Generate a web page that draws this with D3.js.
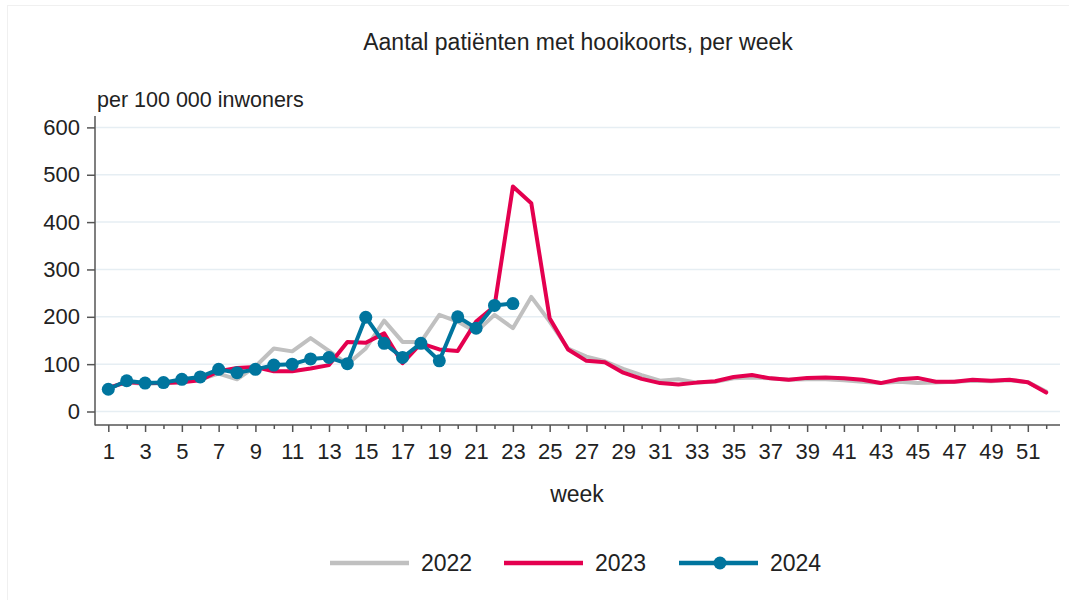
<!DOCTYPE html>
<html>
<head>
<meta charset="utf-8">
<script src="https://cdn.jsdelivr.net/npm/d3@7"></script>
<style>
  html, body { margin: 0; padding: 0; background: #fff; }
  svg text { font-family: "Liberation Sans", Arial, sans-serif; fill: #222; }
</style>
</head>
<body>
<svg id="chart" width="1069" height="600"></svg>
<script>
const weeks = d3.range(1, 53);
const yTicks = [0, 100, 200, 300, 400, 500, 600];
const seriesNames = ["2022", "2023", "2024"];

const y2022 = [50, 62, 58, 60, 62, 68, 80, 68, 95, 133, 127, 155, 128, 100, 133, 192, 147, 147, 204, 190,
               168, 204, 176, 242, 190, 133, 116, 106, 90, 77, 65, 68, 61, 63, 70, 72, 70, 67, 68, 68,
               66, 63, 60, 63, 60, 61, 63, 65, 64, 66, 62, 42];
const y2023 = [50, 62, 60, 60, 62, 66, 85, 92, 94, 85, 85, 91, 98, 147, 145, 165, 102, 144, 131, 128,
               190, 222, 475, 440, 197, 131, 107, 104, 82, 69, 60, 57, 61, 64, 73, 77, 70, 67, 71, 72,
               70, 67, 60, 68, 71, 63, 63, 67, 65, 67, 62, 40];
const y2024 = [47, 65, 60, 61, 68, 73, 89, 82, 89, 98, 100, 111, 114, 101, 199, 144, 114, 144, 107, 200,
               176, 224, 228];

const colors = { "2022": "#c0c0c0", "2023": "#e4004f", "2024": "#00759e" };

const svg = d3.select("#chart");
svg.append("rect").attr("width", 1069).attr("height", 600).attr("fill", "#fff");
svg.append("rect").attr("x", 7.5).attr("y", 5.5).attr("width", 1080).attr("height", 620)
   .attr("fill", "none").attr("stroke", "#f0f0f0");

const x = d3.scaleLinear().domain([1, 52]).range([108.3, 1046.2]);
const y = d3.scaleLinear().domain([0, 600]).range([411.5, 127.4]);

// gridlines
svg.append("g").selectAll("line").data(yTicks).join("line")
  .attr("x1", 96).attr("x2", 1060)
  .attr("y1", d => y(d)).attr("y2", d => y(d))
  .attr("stroke", "#e6eef3").attr("stroke-width", 1.5);

// title & labels
svg.append("text").attr("x", 578).attr("y", 50).attr("text-anchor", "middle")
  .style("font-size", "23px").text("Aantal patiënten met hooikoorts, per week");
svg.append("text").attr("x", 97).attr("y", 107)
  .style("font-size", "21.5px").text("per 100 000 inwoners");
svg.append("text").attr("x", 577).attr("y", 502).attr("text-anchor", "middle")
  .style("font-size", "23px").text("week");

// y axis
const yAxis = svg.append("g").attr("transform", "translate(95,0)")
  .call(d3.axisLeft(y).tickValues(yTicks).tickSize(8).tickPadding(7).tickFormat(d3.format("d")));
yAxis.select(".domain").remove();
yAxis.selectAll(".tick line").attr("stroke", "#555").attr("stroke-width", 1.5);
yAxis.selectAll(".tick text").style("font-size", "22px").style("font-family", "Liberation Sans, Arial, sans-serif").attr("fill", "#222");
svg.append("line").attr("x1", 95).attr("x2", 95).attr("y1", 116).attr("y2", 425.5)
  .attr("stroke", "#555").attr("stroke-width", 1.5);

// x axis
const xAxis = svg.append("g").attr("transform", "translate(0,425)")
  .call(d3.axisBottom(x).tickValues(weeks).tickSize(7).tickPadding(11)
        .tickFormat(d => (d % 2 === 1 ? d : "")));
xAxis.select(".domain").remove();
xAxis.selectAll(".tick line").attr("stroke", "#555").attr("stroke-width", 1.5)
  .attr("y2", d => (d % 2 === 1 ? 7 : 4));
xAxis.selectAll(".tick text").style("font-size", "22px").style("font-family", "Liberation Sans, Arial, sans-serif").attr("fill", "#222");
svg.append("line").attr("x1", 95).attr("x2", 1060).attr("y1", 425).attr("y2", 425)
  .attr("stroke", "#555").attr("stroke-width", 1.5);

// lines
const line = d3.line().x((d, i) => x(weeks[i])).y(d => y(d));
const data = { "2022": y2022, "2023": y2023, "2024": y2024 };
seriesNames.forEach(name => {
  svg.append("path").datum(data[name]).attr("d", line)
    .attr("fill", "none").attr("stroke", colors[name]).attr("stroke-width", 4)
    .attr("stroke-linejoin", "round").attr("stroke-linecap", "round");
});
svg.append("g").selectAll("circle").data(y2024).join("circle")
  .attr("cx", (d, i) => x(weeks[i])).attr("cy", d => y(d)).attr("r", 6.5)
  .attr("fill", colors["2024"]);

// legend
const legendX = [330, 504, 679];
seriesNames.forEach((name, i) => {
  const g = svg.append("g").attr("transform", `translate(${legendX[i]},563)`);
  g.append("line").attr("x1", 0).attr("x2", 79).attr("y1", 0).attr("y2", 0)
    .attr("stroke", colors[name]).attr("stroke-width", 4.5);
  if (name === "2024") {
    g.append("circle").attr("cx", 41).attr("cy", 0).attr("r", 6.5).attr("fill", colors[name]);
  }
  g.append("text").attr("x", 91).attr("y", 8).style("font-size", "23px").text(name);
});
</script>
</body>
</html>
